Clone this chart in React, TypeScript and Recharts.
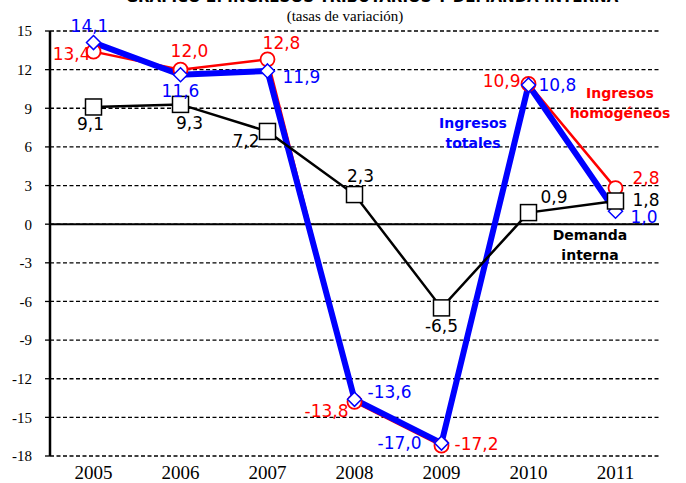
import { LineChart, Line, XAxis, YAxis, CartesianGrid, ReferenceLine } from 'recharts';

const years = ['2005', '2006', '2007', '2008', '2009', '2010', '2011'];
const ingresosTotales = [14.1, 11.6, 11.9, -13.6, -17.0, 10.8, 1.0];
const ingresosHomogeneos = [13.4, 12.0, 12.8, -13.8, -17.2, 10.9, 2.8];
const demandaInterna = [9.1, 9.3, 7.2, 2.3, -6.5, 0.9, 1.8];
const yTicks = [-18, -15, -12, -9, -6, -3, 0, 3, 6, 9, 12, 15];

// posiciones de las etiquetas respecto a cada punto: [dx, dy, anchor]
type Off = [number, number, 'start' | 'middle' | 'end'];
const offTotales: Off[] = [[-4, -17, 'middle'], [0, 16, 'middle'], [15, 6, 'start'], [13, -7, 'start'], [-20, 0, 'end'], [10, 0, 'start'], [15, 6, 'start']];
const offHomog: Off[] = [[-3, 2, 'end'], [9, -19, 'middle'], [14, -16, 'middle'], [-6, 9, 'end'], [13, -2, 'start'], [-8, -3, 'end'], [17, -10, 'start']];
const offDemanda: Off[] = [[-3, 17, 'middle'], [9, 19, 'middle'], [-8, 10, 'end'], [6, -19, 'middle'], [0, 18, 'middle'], [12, -16, 'start'], [17, -1, 'start']];

const chartData = years.map((year, i) => ({
  year,
  totales: ingresosTotales[i],
  homog: ingresosHomogeneos[i],
  demanda: demandaInterna[i],
}));

const fmt = (v: number) => v.toFixed(1).replace('.', ',');
const labelFont = 'DejaVu Sans, sans-serif';
const serif = 'Liberation Serif, serif';

const makeLabel = (offs: Off[], color: string) => (props: any) => {
  const { x, y, index, value } = props;
  const [dx, dy, anchor] = offs[index];
  return (
    <text x={x + dx} y={y + dy} textAnchor={anchor} dominantBaseline="central" fill={color} fontSize={17} fontFamily={labelFont}>
      {fmt(value)}
    </text>
  );
};

const Diamond = (props: any) => {
  const { cx, cy, index } = props;
  const s = 7;
  return <path key={index} d={`M${cx},${cy - s}L${cx + s},${cy}L${cx},${cy + s}L${cx - s},${cy}Z`} fill="#fff" stroke="#0000ff" strokeWidth={1.5} />;
};

const Circle = (props: any) => {
  const { cx, cy, index } = props;
  return <circle key={index} cx={cx} cy={cy} r={7} fill="#fff" stroke="#ff0000" strokeWidth={1.8} />;
};

const Square = (props: any) => {
  const { cx, cy, index } = props;
  return <rect key={index} x={cx - 8} y={cy - 8} width={16} height={16} fill="#fff" stroke="#000" strokeWidth={1.5} />;
};

export default function App() {
  return (
    <div style={{ position: 'absolute', left: 0, top: 0, width: 686, height: 483, background: '#fff' }}>
      <LineChart width={686} height={483} data={chartData} margin={{ top: 31, right: 27, left: 0, bottom: 0 }}>
        <CartesianGrid vertical={false} stroke="#000" strokeDasharray="4 2.5" strokeWidth={1.3} />
        <XAxis
          dataKey="year"
          axisLine={false}
          tickLine={false}
          height={27}
          padding={{ left: 43.5, right: 43.5 }}
          tick={{ fill: '#000', fontSize: 19, fontFamily: serif }}
          tickMargin={4}
        />
        <YAxis
          type="number"
          domain={[-18, 15]}
          ticks={yTicks}
          interval={0}
          width={50}
          axisLine={{ stroke: '#000', strokeWidth: 2.5 }}
          tickLine={{ stroke: '#000', strokeWidth: 1.3 }}
          tickSize={5}
          tickMargin={13}
          tick={{ fill: '#000', fontSize: 15, fontFamily: serif }}
        />
        <ReferenceLine y={0} stroke="#000" strokeWidth={2} />
        <Line
          dataKey="homog"
          stroke="#ff0000"
          strokeWidth={2.5}
          dot={Circle}
          activeDot={false}
          label={makeLabel(offHomog, '#ff0000')}
          isAnimationActive={false}
        />
        <Line
          dataKey="totales"
          stroke="#0000ff"
          strokeWidth={6}
          dot={Diamond}
          activeDot={false}
          label={makeLabel(offTotales, '#0000ff')}
          isAnimationActive={false}
        />
        <Line
          dataKey="demanda"
          stroke="#000"
          strokeWidth={2.5}
          dot={Square}
          activeDot={false}
          label={makeLabel(offDemanda, '#000')}
          isAnimationActive={false}
        />
        <text x={372} y={2} textAnchor="middle" fontSize={15} fontWeight="bold" fontFamily={labelFont} fill="#000">
          GRÁFICO 2. INGRESOS TRIBUTARIOS Y DEMANDA INTERNA
        </text>
        <text x={345} y={21} textAnchor="middle" fontSize={15} fontFamily={serif} fill="#000">
          (tasas de variación)
        </text>
        <g fontFamily={labelFont} fontWeight="bold" fontSize={14} textAnchor="middle">
          <text x={473} y={128} fill="#0000ff">Ingresos</text>
          <text x={473} y={148} fill="#0000ff">totales</text>
          <text x={620} y={98} fill="#ff0000">Ingresos</text>
          <text x={620} y={118} fill="#ff0000">homogéneos</text>
          <text x={590} y={240} fill="#000">Demanda</text>
          <text x={590} y={260} fill="#000">interna</text>
        </g>
      </LineChart>
    </div>
  );
}
